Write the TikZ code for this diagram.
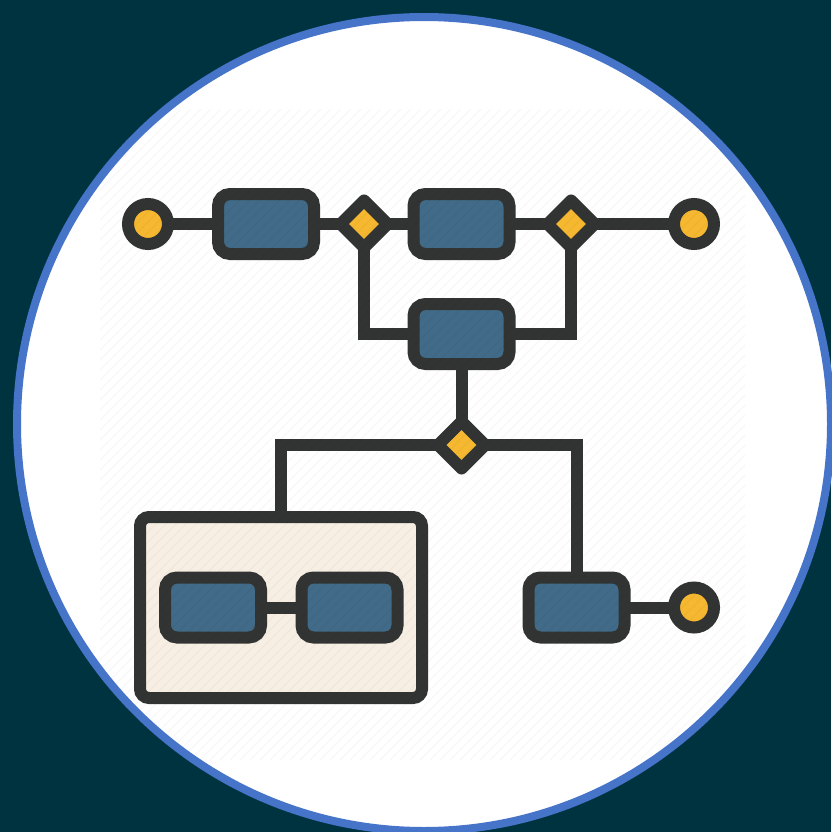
\documentclass[tikz,border=0pt]{standalone}
\usetikzlibrary{shapes.geometric}
\definecolor{bgc}{HTML}{003340}
\definecolor{ringc}{HTML}{4674C8}
\definecolor{darkc}{HTML}{323433}
\definecolor{bluec}{HTML}{416B88}
\definecolor{yelc}{HTML}{F6B830}
\definecolor{creamc}{HTML}{F7EFE3}
\pgfdeclarelayer{bg}
\pgfdeclarelayer{edges}
\pgfsetlayers{bg,edges,main}
\begin{document}
\begin{tikzpicture}[x=1pt,y=-1pt,
  lw/.style={line width=12pt},
  stepbox/.style={lw,draw=darkc,fill=bluec,rectangle,rounded corners=12pt,
    minimum width=96pt,minimum height=60pt,inner sep=0pt},
  groupbox/.style={lw,draw=darkc,fill=creamc,rectangle,rounded corners=9pt,
    minimum width=282pt,minimum height=181pt,inner sep=0pt},
  gate/.style={lw,draw=darkc,fill=yelc,diamond,line join=round,
    minimum width=52pt,minimum height=52pt,inner sep=0pt},
  term/.style={lw,draw=darkc,fill=yelc,circle,minimum size=40pt,inner sep=0pt},
  link/.style={lw,draw=darkc,line join=miter}]
\useasboundingbox (0,0) rectangle (831,832);
\begin{pgfonlayer}{bg}
  \fill[bgc] (0,0) rectangle (831,832);
  \draw[line width=8pt,draw=ringc,fill=white] (424,424) circle[radius=407];
\end{pgfonlayer}

% nodes
\node[term] (c1) at (148,224) {};
\node[stepbox] (r1) at (266,224) {};
\node[gate] (d1) at (364,224) {};
\node[stepbox] (r2) at (461.5,224) {};
\node[gate] (d2) at (571,224) {};
\node[term] (c2) at (694,224) {};
\node[stepbox] (r3) at (461.5,334) {};
\node[gate] (d3) at (461.5,445) {};
\node[groupbox] (big) at (281,607.5) {};
\node[stepbox] (ra) at (213,607.5) {};
\node[stepbox] (rb) at (349.5,607.5) {};
\node[stepbox] (r4) at (576.5,607.5) {};
\node[term] (c3) at (694,607.5) {};

\begin{pgfonlayer}{edges}
  \draw[link] (c1.center) -- (r1.center);
  \draw[link] (r1.center) -- (d1.center);
  \draw[link] (d1.center) -- (r2.center);
  \draw[link] (r2.center) -- (d2.center);
  \draw[link] (d2.center) -- (c2.center);
  \draw[link] (d1.center) |- (r3.center);
  \draw[link] (d2.center) |- (r3.center);
  \draw[link] (r3.center) -- (d3.center);
  \draw[link] (d3.center) -| (big.north);
  \draw[link] (d3.center) -| (r4.center);
  \draw[link] (r4.center) -- (c3.center);
\end{pgfonlayer}
\draw[link] (ra.east) -- (rb.west);

% faint diagonal hatching
\begin{scope}
  \clip (100,110) rectangle (745,760);
  \clip (424,424) circle[radius=403];
  \foreach \i in {-660,-650,...,650}
    \draw[black,opacity=0.025,line width=2pt] (\i+100,760) -- ++(660,-660);
\end{scope}
\end{tikzpicture}
\end{document}
